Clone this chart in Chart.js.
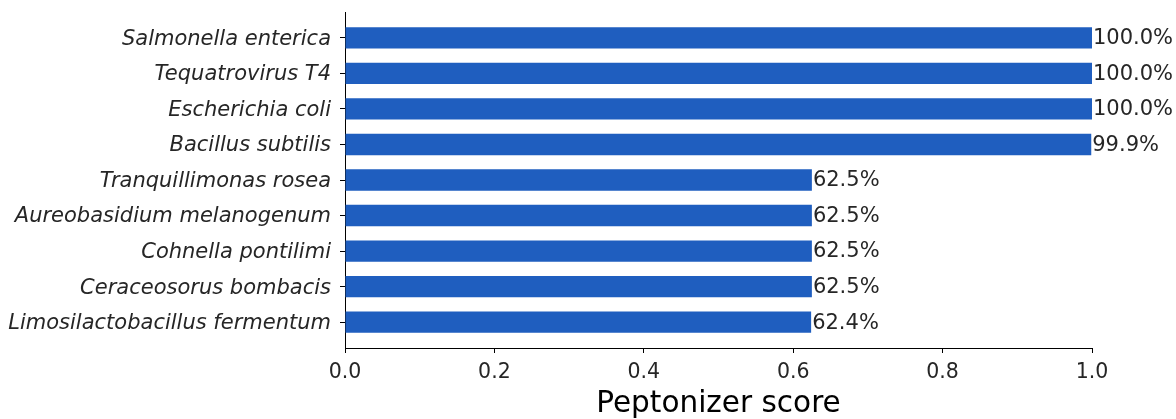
<!DOCTYPE html>
<html>
<head>
<meta charset="utf-8">
<script src="https://cdn.jsdelivr.net/npm/chart.js@4.4.1/dist/chart.umd.min.js"></script>
<style>
  html, body { margin: 0; padding: 0; background: #ffffff; }
  #wrap { width: 1176px; height: 419px; }
</style>
</head>
<body>
<div id="wrap"><canvas id="chart" width="1176" height="419"></canvas></div>
<script>
// Top organisms ranked by Peptonizer score
const organisms = [
  "Salmonella enterica",
  "Tequatrovirus T4",
  "Escherichia coli",
  "Bacillus subtilis",
  "Tranquillimonas rosea",
  "Aureobasidium melanogenum",
  "Cohnella pontilimi",
  "Ceraceosorus bombacis",
  "Limosilactobacillus fermentum"
];
const scores = [1.0, 1.0, 1.0, 0.999, 0.625, 0.625, 0.625, 0.625, 0.624];
const scoreTicks = [0.0, 0.2, 0.4, 0.6, 0.8, 1.0];

const TEXT = '#262626';
const FAMILY = '"DejaVu Sans", sans-serif';

// Percentage label printed just past the end of each bar
const barValueLabels = {
  id: 'barValueLabels',
  afterDatasetsDraw(chart) {
    const ctx = chart.ctx;
    const meta = chart.getDatasetMeta(0);
    ctx.save();
    ctx.font = '21px ' + FAMILY;
    ctx.fillStyle = TEXT;
    ctx.textAlign = 'left';
    ctx.textBaseline = 'middle';
    meta.data.forEach((bar, i) => {
      ctx.fillText((scores[i] * 100).toFixed(1) + '%', bar.x + 1, bar.y + 1);
    });
    ctx.restore();
  }
};

new Chart(document.getElementById('chart'), {
  type: 'bar',
  data: {
    datasets: [{
      data: scores.map((s, i) => ({ x: s, y: i })),
      backgroundColor: '#1f5ebf',
      borderWidth: 0,
      barPercentage: 0.6,
      categoryPercentage: 1.0
    }]
  },
  options: {
    indexAxis: 'y',
    responsive: false,
    animation: false,
    layout: { padding: { top: 12, right: 84, left: 0, bottom: 0 } },
    plugins: {
      legend: { display: false },
      tooltip: { enabled: false }
    },
    scales: {
      y: {
        type: 'linear',
        reverse: true,
        offset: false,
        min: -0.73,
        max: 8.73,
        z: 1,
        afterFit(scale) {
          scale.width = 345;
          scale.paddingTop = 0;
          scale.paddingBottom = 0;
        },
        afterBuildTicks(scale) {
          scale.ticks = organisms.map((_, i) => ({ value: i }));
        },
        grid: {
          offset: false,
          drawOnChartArea: false,
          drawTicks: true,
          tickLength: 5,
          tickWidth: 1,
          tickColor: '#000000'
        },
        border: { display: true, color: '#000000', width: 1 },
        ticks: {
          autoSkip: false,
          padding: 9,
          labelOffset: 1.5,
          color: TEXT,
          font: { family: FAMILY, size: 21, style: 'italic' },
          callback: (v) => organisms[v]
        }
      },
      x: {
        type: 'linear',
        min: 0,
        max: 1,
        afterFit(scale) { scale.height = 71; },
        afterBuildTicks(scale) {
          scale.ticks = scoreTicks.map(v => ({ value: v }));
        },
        grid: {
          drawOnChartArea: false,
          drawTicks: true,
          tickLength: 5,
          tickWidth: 1,
          tickColor: '#000000'
        },
        border: { display: true, color: '#000000', width: 1 },
        ticks: {
          padding: 7,
          color: TEXT,
          font: { family: FAMILY, size: 20.5 },
          callback: (v) => Number(v).toFixed(1)
        },
        title: {
          display: true,
          text: 'Peptonizer score',
          color: '#000000',
          font: { family: FAMILY, size: 29.5 },
          padding: { top: 0, bottom: -3 }
        }
      }
    }
  },
  plugins: [barValueLabels]
});
</script>
</body>
</html>
